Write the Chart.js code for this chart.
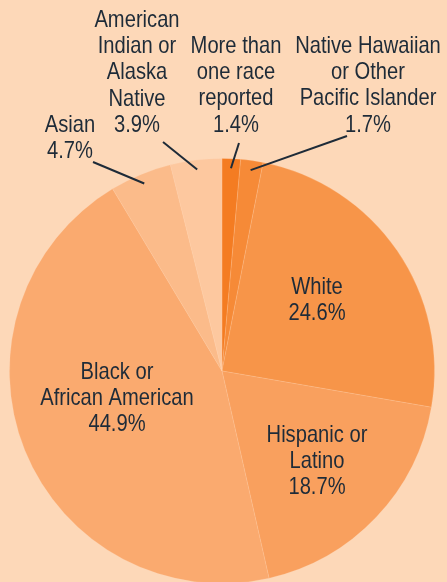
<!DOCTYPE html>
<html><head><meta charset="utf-8">
<script src="https://cdn.jsdelivr.net/npm/chart.js@4"></script>
<style>
html,body{margin:0;padding:0;background:#FDD8B8;overflow:hidden;width:447px;height:582px;}
#wrap{position:relative;width:447px;height:590px;}
</style></head>
<body>
<div id="wrap"><canvas id="c" width="447" height="590"></canvas></div>
<script>
const categories = ["More than one race reported","Native Hawaiian or Other Pacific Islander","White","Hispanic or Latino","Black or African American","Asian","American Indian or Alaska Native"];
const values = [1.4, 1.7, 24.6, 18.7, 44.9, 4.7, 3.9];
const labelLines = [
  ["More than","one race","reported","1.4%"],
  ["Native Hawaiian","or Other","Pacific Islander","1.7%"],
  ["White","24.6%"],
  ["Hispanic or","Latino","18.7%"],
  ["Black or","African American","44.9%"],
  ["Asian","4.7%"],
  ["American","Indian or","Alaska","Native","3.9%"]
];
const colors = ["#F47C22","#F68A37","#F79549","#F9A05E","#FAAA6F","#FBBB8A","#FDC89F"];
// label placement (x center, y of first line), leader start point or null
const labelPos = [
  {x:236,y:46,lead:[239,143]},
  {x:368,y:46,lead:[347,136]},
  {x:317,y:287,lead:null},
  {x:317,y:435,lead:null},
  {x:117,y:372,lead:null},
  {x:70,y:125,lead:[93,162]},
  {x:137,y:20,lead:[163,142]}
];
const SX = 0.84;

const labelPlugin = {
  id:'labels',
  afterDatasetsDraw(chart){
    const ctx = chart.ctx;
    const meta = chart.getDatasetMeta(0);
    ctx.save();
    ctx.fillStyle = '#1E2B38';
    ctx.strokeStyle = '#1E2B38';
    ctx.lineWidth = 2;
    meta.data.forEach((arc,i)=>{
      const p = labelPos[i];
      if(p.lead){
        const mid = (arc.startAngle + arc.endAngle)/2;
        const r = arc.outerRadius*0.955;
        const ex = arc.x + Math.cos(mid)*r;
        const ey = arc.y + Math.sin(mid)*r;
        ctx.beginPath();
        ctx.moveTo(p.lead[0],p.lead[1]);
        ctx.lineTo(ex,ey);
        ctx.stroke();
      }
    });
    ctx.font = '24px "Liberation Sans", Arial, sans-serif';
    ctx.textAlign = 'center';
    ctx.textBaseline = 'middle';
    meta.data.forEach((arc,i)=>{
      const p = labelPos[i];
      labelLines[i].forEach((t,k)=>{
        ctx.save();
        ctx.translate(p.x,p.y+k*26.3);
        ctx.scale(SX,1);
        ctx.fillText(t,0,0);
        ctx.restore();
      });
    });
    ctx.restore();
  }
};

new Chart(document.getElementById('c'),{
  type:'pie',
  data:{labels:categories,datasets:[{data:values,backgroundColor:colors,borderColor:'rgba(253,216,184,0.2)',borderWidth:1}]},
  options:{
    responsive:false,
    animation:false,
    layout:{padding:{left:9,right:12,top:158,bottom:6}},
    plugins:{legend:{display:false},tooltip:{enabled:false}}
  },
  plugins:[labelPlugin]
});
</script>
</body></html>
